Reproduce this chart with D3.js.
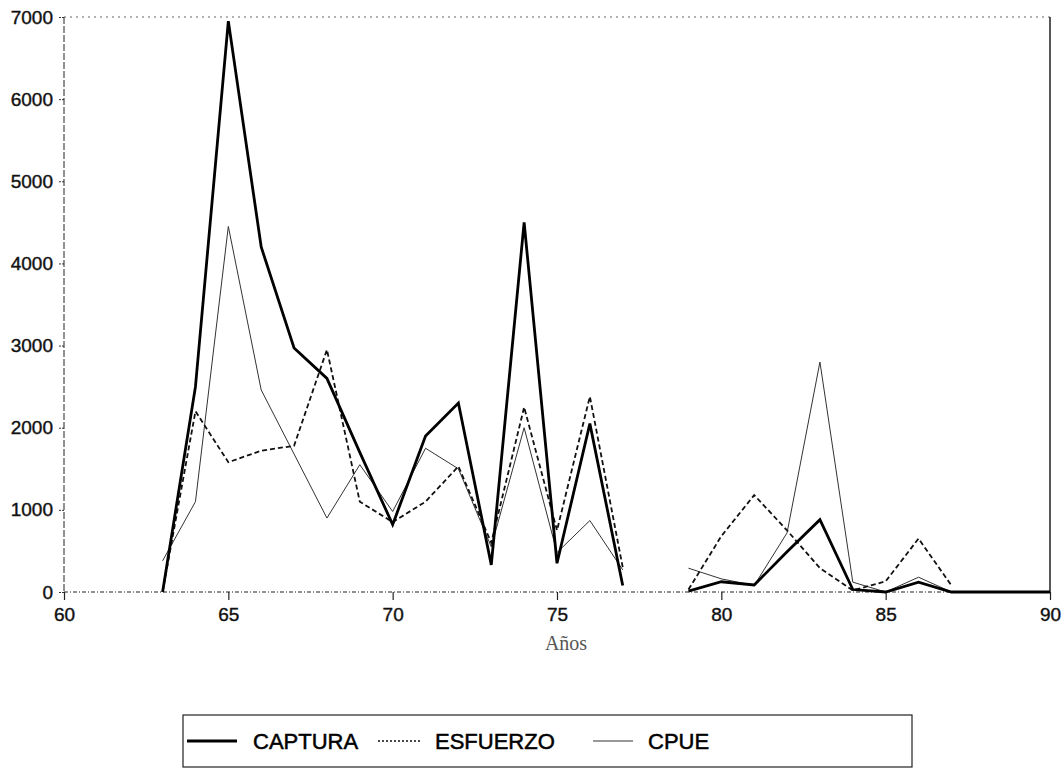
<!DOCTYPE html>
<html>
<head>
<meta charset="utf-8">
<script src="https://cdn.jsdelivr.net/npm/d3@7"></script>
<style>
  html, body { margin: 0; padding: 0; background: #fff; }
  svg { display: block; }
</style>
</head>
<body>
<svg id="chart" width="1064" height="777"></svg>
<script>
// ---- data ----
const years    = [63, 64, 65, 66, 67, 68, 69, 70, 71, 72, 73, 74, 75, 76, 77, 78, 79, 80, 81, 82, 83, 84, 85, 86, 87, 88, 89, 90];
const captura  = [0, 2500, 6950, 4200, 2970, 2600, 1700, 820, 1900, 2300, 330, 4500, 350, 2050, 80, null, 10, 125, 85, 490, 880, 30, 0, 120, 0, 0, 0, 0];
const esfuerzo = [0, 2200, 1580, 1720, 1780, 2950, 1100, 850, 1100, 1530, 600, 2250, 750, 2380, 300, null, 30, 680, 1180, 750, 290, 20, 130, 650, 80, null, null, null];
const cpue     = [380, 1100, 4450, 2460, 1680, 900, 1550, 980, 1750, 1500, 550, 2000, 480, 870, 270, null, 290, 160, 80, 720, 2800, 120, 0, 180, 0, 0, 0, 0];
const yTicks   = [0, 1000, 2000, 3000, 4000, 5000, 6000, 7000];
const xTicks   = [60, 65, 70, 75, 80, 85, 90];
const seriesNames = ["CAPTURA", "ESFUERZO", "CPUE"];
const xTitle = "Años";

// ---- layout ----
const svg = d3.select("#chart");
const x = d3.scaleLinear().domain([60, 90]).range([64, 1050]);
const y = d3.scaleLinear().domain([0, 7000]).range([592, 17]);

const styles = {
  CAPTURA:  { stroke: "#000", width: 2.8, dash: null },
  ESFUERZO: { stroke: "#111", width: 1.8, dash: "5,3" },
  CPUE:     { stroke: "#333", width: 1.0, dash: null }
};

// frame: top dotted, right solid
svg.append("line").attr("x1", x(60)).attr("x2", x(90)).attr("y1", y(7000)).attr("y2", y(7000))
  .attr("stroke", "#666").attr("stroke-width", 1).attr("stroke-dasharray", "2,4");
svg.append("line").attr("x1", x(90)).attr("x2", x(90)).attr("y1", y(7000)).attr("y2", y(0))
  .attr("stroke", "#111").attr("stroke-width", 1.4);

// y axis
const yAxis = d3.axisLeft(y).tickValues(yTicks).tickFormat(d3.format("d")).tickSize(6).tickPadding(5);
const gy = svg.append("g").attr("transform", `translate(${x(60)},0)`).call(yAxis);
gy.select(".domain").remove();
gy.selectAll(".tick line").attr("stroke", "#333").attr("stroke-dasharray", "2,1");
gy.selectAll("text").attr("font-family", "Liberation Sans, Arial, sans-serif").attr("font-size", 19)
  .attr("fill", "#111").attr("stroke", "#111").attr("stroke-width", 0.4);
svg.append("line").attr("x1", x(60)).attr("x2", x(60)).attr("y1", y(7000)).attr("y2", y(0))
  .attr("stroke", "#222").attr("stroke-width", 1).attr("stroke-dasharray", "7,2");

// x axis
const xAxis = d3.axisBottom(x).tickValues(xTicks).tickFormat(d3.format("d")).tickSize(8).tickPadding(8);
const gx = svg.append("g").attr("transform", `translate(0,${y(0)})`).call(xAxis);
gx.select(".domain").remove();
gx.selectAll(".tick line").attr("stroke", "#222").attr("stroke-width", 1.2);
gx.selectAll("text").attr("font-family", "Liberation Sans, Arial, sans-serif").attr("font-size", 19)
  .attr("fill", "#111").attr("stroke", "#111").attr("stroke-width", 0.4);
svg.append("line").attr("x1", x(60)).attr("x2", x(90)).attr("y1", y(0)).attr("y2", y(0))
  .attr("stroke", "#222").attr("stroke-width", 1.2).attr("stroke-dasharray", "4,2,1,2");

// x title
svg.append("text").attr("x", 566).attr("y", 650).attr("text-anchor", "middle")
  .attr("font-family", "Liberation Serif, Times New Roman, serif").attr("font-size", 20).attr("fill", "#555")
  .text(xTitle);

// lines
const data = { CAPTURA: captura, ESFUERZO: esfuerzo, CPUE: cpue };
const line = d3.line().defined(d => d[1] !== null).x(d => x(d[0])).y(d => y(d[1]));
["CPUE", "ESFUERZO", "CAPTURA"].forEach(name => {
  const pts = years.map((yr, i) => [yr, data[name][i]]);
  const s = styles[name];
  svg.append("path").datum(pts).attr("d", line)
    .attr("fill", "none").attr("stroke", s.stroke).attr("stroke-width", s.width)
    .attr("stroke-linejoin", "miter").attr("stroke-dasharray", s.dash);
});

// legend
const lg = svg.append("g");
lg.append("rect").attr("x", 183).attr("y", 715).attr("width", 729).attr("height", 52)
  .attr("fill", "none").attr("stroke", "#222").attr("stroke-width", 1.2);
const legendItems = [
  { name: seriesNames[0], x0: 187, x1: 237, tx: 253 },
  { name: seriesNames[1], x0: 378, x1: 420, tx: 435 },
  { name: seriesNames[2], x0: 593, x1: 633, tx: 648 }
];
legendItems.forEach(it => {
  const s = styles[it.name];
  lg.append("line").attr("x1", it.x0).attr("x2", it.x1).attr("y1", 741).attr("y2", 741)
    .attr("stroke", s.stroke).attr("stroke-width", it.name === "ESFUERZO" ? 1.6 : s.width)
    .attr("stroke-dasharray", it.name === "ESFUERZO" ? "2,2" : null);
  lg.append("text").attr("x", it.tx).attr("y", 749)
    .attr("font-family", "Liberation Sans, Arial, sans-serif").attr("font-size", 22)
    .attr("fill", "#000").attr("stroke", "#000").attr("stroke-width", 0.5)
    .text(it.name);
});
</script>
</body>
</html>
